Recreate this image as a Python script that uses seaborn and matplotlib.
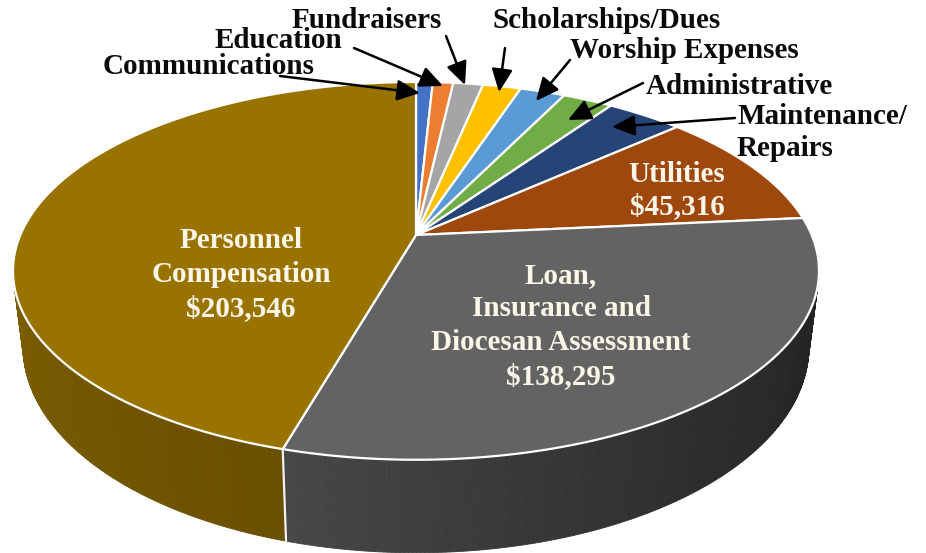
import numpy as np
import matplotlib
matplotlib.use("Agg")
import matplotlib.pyplot as plt
import seaborn as sns

# clockwise from 12 o'clock
categories = ["Communications", "Education", "Fundraisers", "Scholarships/Dues",
              "Worship Expenses", "Administrative", "Maintenance/Repairs",
              "Utilities", "Loan, Insurance and Diocesan Assessment",
              "Personnel Compensation"]
amounts = [3600, 4400, 6400, 8200, 9700, 10800, 16500, 45316, 138295, 203546]
top_colors = ["#4472C4", "#ED7D31", "#A5A5A5", "#FFC000", "#5B9BD5",
              "#70AD47", "#264478", "#9E480E", "#636363", "#997300"]
wall_colors = {"Utilities": ("#7a370a", "#7a370a"),
               "Loan, Insurance and Diocesan Assessment": ("#222222", "#242424", "#2c2c2c", "#383838", "#474747"),
               "Personnel Compensation": ("#6a4f00", "#7a5b00", "#7f5f00", "#7f5f00")}

# perspective of the disc, in pixels of the picture
CX, RX = 416, 403 * np.sqrt(1 - 0.19 ** 2)
PERSP, YA, YB = 0.19, -137.4, 235


def project(theta):
    """ circle angle (clockwise from top) to picture position of the top face
    :param theta: angle in radians
    """
    u, v = np.sin(theta), np.cos(theta)
    w = 1 + PERSP * v
    return CX + RX * u / w, (YA * v + YB) / w


def drop(x, y):
    """ same rim point at the bottom of the wall """
    return CX + (x - CX) * 0.975, y + 76 + 0.09 * (y - 271)


sns.set_theme(style="white")
plt.rcParams["font.family"] = ["Liberation Serif", "DejaVu Serif"]
plt.rcParams["font.weight"] = "bold"

fig = plt.figure(figsize=(9.26, 5.53), dpi=100)
ax = fig.add_axes([0, 0, 1, 1])
ax.set_xlim(0, 926)
ax.set_ylim(553, 0)
ax.axis("off")

edges = np.cumsum([0] + amounts) / sum(amounts) * 2 * np.pi

# walls first, the top faces cover whatever faces backwards
for i, name in enumerate(categories):
    if name not in wall_colors:
        continue
    steps = int(np.degrees(edges[i + 1] - edges[i])) * 2
    shades = sns.blend_palette(wall_colors[name], steps)
    angles = np.linspace(edges[i], edges[i + 1], steps + 1)
    for k in range(steps):
        th = np.linspace(angles[k], angles[k + 1], 3)
        x, y = project(th)
        xb, yb = drop(x, y)
        ax.fill(np.r_[x, xb[::-1]], np.r_[y, yb[::-1]], color=shades[k], lw=0.6, zorder=1)

# white seam between the two front walls
seam_x, seam_y = project(edges[9])
seam_xb, seam_yb = drop(seam_x, seam_y)
ax.plot([seam_x, seam_xb], [seam_y, seam_yb], color="#f2f2f2", lw=1.6, zorder=2)

# top faces
for i, color in enumerate(top_colors):
    th = np.linspace(edges[i], edges[i + 1], 200)
    x, y = project(th)
    ax.fill(np.r_[CX, x], np.r_[YB, y], facecolor=color, edgecolor="white", lw=1.6,
            joinstyle="round", zorder=3)

white_labels = [("Personnel", 241, 240), ("Compensation", 241, 275), ("$203,546", 241, 309),
                ("Loan,", 561, 276), ("Insurance and", 561, 309),
                ("Diocesan Assessment", 561, 343), ("$138,295", 561, 377),
                ("Utilities", 677, 175), ("$45,316", 677, 207)]
for text, x, y in white_labels:
    ax.text(x, y, text, color="#fbf6e8", fontsize=21, ha="center", va="center", zorder=5)

black_labels = [("Fundraisers", 292, 20), ("Education", 215, 41), ("Communications", 103, 66),
                ("Scholarships/Dues", 493, 21), ("Worship Expenses", 570, 51),
                ("Administrative", 646, 86), ("Maintenance/", 737, 116), ("Repairs", 737, 149)]
for text, x, y in black_labels:
    ax.text(x, y, text, color="#0a0a0a", fontsize=21, ha="left", va="center", zorder=5)

arrow_tails = [(280, 76), (354, 48), (446, 36), (505, 48), (570, 60), (643, 83), (735, 118)]
arrow_heads = [(420, 93), (443, 86), (465, 85), (499, 92), (536, 101), (568, 120), (612, 127)]
for tail, head in zip(arrow_tails, arrow_heads):
    ax.annotate("", xy=head, xytext=tail, zorder=6,
                arrowprops=dict(arrowstyle="-|>,head_width=0.32,head_length=0.7", color="black",
                                lw=1.8, mutation_scale=20, shrinkA=0, shrinkB=0))

plt.savefig("out.png", dpi=100)
